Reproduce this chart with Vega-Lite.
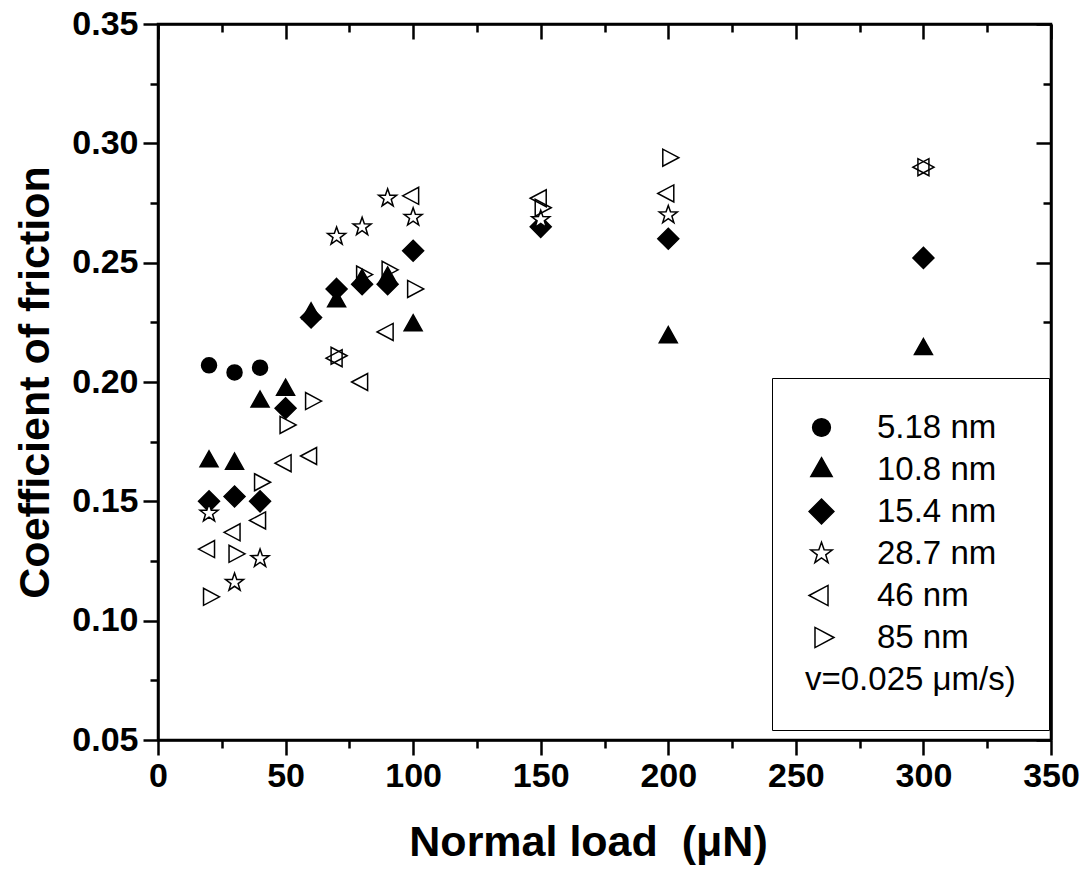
{
  "$schema": "https://vega.github.io/schema/vega-lite/v6.json",
  "width": 893,
  "height": 716,
  "autosize": {"type": "none"},
  "padding": {"left": 158, "top": 24, "right": 37, "bottom": 129},
  "background": "white",
  "config": {"view": {"stroke": "black", "strokeWidth": 2.5}, "font": "Liberation Sans"},
  "data": {"values": [
    {"x": 20, "y": 0.207, "s": "5.18 nm"},
    {"x": 30, "y": 0.204, "s": "5.18 nm"},
    {"x": 40, "y": 0.206, "s": "5.18 nm"},
    {"x": 20, "y": 0.167, "s": "10.8 nm"},
    {"x": 30, "y": 0.166, "s": "10.8 nm"},
    {"x": 40, "y": 0.192, "s": "10.8 nm"},
    {"x": 50, "y": 0.197, "s": "10.8 nm"},
    {"x": 60, "y": 0.229, "s": "10.8 nm"},
    {"x": 70, "y": 0.234, "s": "10.8 nm"},
    {"x": 80, "y": 0.243, "s": "10.8 nm"},
    {"x": 90, "y": 0.244, "s": "10.8 nm"},
    {"x": 100, "y": 0.224, "s": "10.8 nm"},
    {"x": 200, "y": 0.219, "s": "10.8 nm"},
    {"x": 300, "y": 0.214, "s": "10.8 nm"},
    {"x": 20, "y": 0.150, "s": "15.4 nm"},
    {"x": 30, "y": 0.152, "s": "15.4 nm"},
    {"x": 40, "y": 0.150, "s": "15.4 nm"},
    {"x": 50, "y": 0.189, "s": "15.4 nm"},
    {"x": 60, "y": 0.227, "s": "15.4 nm"},
    {"x": 70, "y": 0.239, "s": "15.4 nm"},
    {"x": 80, "y": 0.241, "s": "15.4 nm"},
    {"x": 90, "y": 0.241, "s": "15.4 nm"},
    {"x": 100, "y": 0.255, "s": "15.4 nm"},
    {"x": 150, "y": 0.265, "s": "15.4 nm"},
    {"x": 200, "y": 0.260, "s": "15.4 nm"},
    {"x": 300, "y": 0.252, "s": "15.4 nm"},
    {"x": 20, "y": 0.145, "s": "28.7 nm"},
    {"x": 30, "y": 0.116, "s": "28.7 nm"},
    {"x": 40, "y": 0.126, "s": "28.7 nm"},
    {"x": 70, "y": 0.261, "s": "28.7 nm"},
    {"x": 80, "y": 0.265, "s": "28.7 nm"},
    {"x": 90, "y": 0.277, "s": "28.7 nm"},
    {"x": 100, "y": 0.269, "s": "28.7 nm"},
    {"x": 150, "y": 0.268, "s": "28.7 nm"},
    {"x": 200, "y": 0.270, "s": "28.7 nm"},
    {"x": 20, "y": 0.130, "s": "46 nm"},
    {"x": 30, "y": 0.137, "s": "46 nm"},
    {"x": 40, "y": 0.142, "s": "46 nm"},
    {"x": 50, "y": 0.166, "s": "46 nm"},
    {"x": 60, "y": 0.169, "s": "46 nm"},
    {"x": 70, "y": 0.210, "s": "46 nm"},
    {"x": 80, "y": 0.200, "s": "46 nm"},
    {"x": 90, "y": 0.221, "s": "46 nm"},
    {"x": 100, "y": 0.278, "s": "46 nm"},
    {"x": 150, "y": 0.277, "s": "46 nm"},
    {"x": 200, "y": 0.279, "s": "46 nm"},
    {"x": 300, "y": 0.290, "s": "46 nm"},
    {"x": 20, "y": 0.110, "s": "85 nm"},
    {"x": 30, "y": 0.128, "s": "85 nm"},
    {"x": 40, "y": 0.158, "s": "85 nm"},
    {"x": 50, "y": 0.182, "s": "85 nm"},
    {"x": 60, "y": 0.192, "s": "85 nm"},
    {"x": 70, "y": 0.211, "s": "85 nm"},
    {"x": 80, "y": 0.245, "s": "85 nm"},
    {"x": 90, "y": 0.247, "s": "85 nm"},
    {"x": 100, "y": 0.239, "s": "85 nm"},
    {"x": 150, "y": 0.273, "s": "85 nm"},
    {"x": 200, "y": 0.294, "s": "85 nm"},
    {"x": 300, "y": 0.290, "s": "85 nm"}
  ]},
  "layer": [
    {
      "mark": {"type": "point", "size": 400, "strokeWidth": 1.5, "opacity": 1},
      "encoding": {
        "x": {"field": "x", "type": "quantitative", "scale": {"domain": [0, 350], "nice": false, "zero": false},
          "axis": {"orient": "bottom", "values": [0, 50, 100, 150, 200, 250, 300, 350], "tickSize": 15, "tickWidth": 2.5, "tickColor": "black",
            "domainColor": "black", "domainWidth": 2.5, "labelFont": "Liberation Sans", "labelFontWeight": "bold", "labelFontSize": 34,
            "labelColor": "black", "labelPadding": 4, "labelFlush": false, "labelOverlap": false, "grid": false,
            "title": "Normal load\u00a0 (\u03bcN)", "titleFont": "Liberation Sans", "titleFontSize": 43, "titleFontWeight": "bold", "titleColor": "black",
            "titlePadding": 28, "titleX": 430, "titleAlign": "center"}},
        "y": {"field": "y", "type": "quantitative", "scale": {"domain": [0.05, 0.35], "nice": false, "zero": false},
          "axis": {"orient": "left", "values": [0.05, 0.10, 0.15, 0.20, 0.25, 0.30, 0.35], "format": ".2f", "tickSize": 15, "tickWidth": 2.5, "tickColor": "black",
            "domainColor": "black", "domainWidth": 2.5, "labelFont": "Liberation Sans", "labelFontWeight": "bold", "labelFontSize": 34,
            "labelColor": "black", "labelPadding": 5, "labelFlush": false, "labelOverlap": false, "grid": false,
            "title": "Coefficient of friction", "titleFont": "Liberation Sans", "titleFontSize": 43, "titleFontWeight": "bold", "titleColor": "black", "titlePadding": 14}},
        "shape": {"field": "s", "type": "nominal",
          "scale": {"domain": ["5.18 nm", "10.8 nm", "15.4 nm", "28.7 nm", "46 nm", "85 nm"],
            "range": [
              "M0.75,0A0.75,0.75,0,1,1,-0.75,0A0.75,0.75,0,1,1,0.75,0Z",
              "M0,-1.0L0.9,0.6L-0.9,0.6Z",
              "M0,-1.05L1.05,0L0,1.05L-1.05,0Z",
              "M0,-0.95L0.2234,-0.3074L0.9035,-0.2936L0.3614,0.1174L0.5584,0.7686L0,0.38L-0.5584,0.7686L-0.3614,0.1174L-0.9035,-0.2936L-0.2234,-0.3074Z",
              "M-1.05,0L0.55,-0.85L0.55,0.85Z",
              "M1.05,0L-0.55,-0.85L-0.55,0.85Z"
            ]},
          "legend": {"title": "v=0.025 \u03bcm/s)", "titleOrient": "bottom", "titleAnchor": "start", "titleFontWeight": "normal", "titleFontSize": 33,
            "titleFont": "Liberation Sans", "titleColor": "black", "titlePadding": 9, "titleLimit": 400,
            "orient": "none", "legendX": 614, "legendY": 354, "strokeColor": "black", "padding": 33, "fillColor": "white",
            "labelFontSize": 33, "labelFont": "Liberation Sans", "labelColor": "black", "labelOffset": 39, "labelLimit": 300,
            "symbolSize": 560, "symbolStrokeWidth": 1.5, "rowPadding": 8}},
        "fill": {"field": "s", "type": "nominal",
          "scale": {"domain": ["5.18 nm", "10.8 nm", "15.4 nm", "28.7 nm", "46 nm", "85 nm"],
            "range": ["black", "black", "black", "white", "transparent", "transparent"]},
          "legend": {"title": "v=0.025 \u03bcm/s)", "titleOrient": "bottom", "titleAnchor": "start", "titleFontWeight": "normal", "titleFontSize": 33,
            "titleFont": "Liberation Sans", "titleColor": "black", "titlePadding": 9, "titleLimit": 400,
            "orient": "none", "legendX": 614, "legendY": 354, "strokeColor": "black", "padding": 33, "fillColor": "white",
            "labelFontSize": 33, "labelFont": "Liberation Sans", "labelColor": "black", "labelOffset": 39, "labelLimit": 300,
            "symbolSize": 560, "symbolStrokeWidth": 1.5, "rowPadding": 8}},
        "stroke": {"field": "s", "type": "nominal",
          "scale": {"domain": ["5.18 nm", "10.8 nm", "15.4 nm", "28.7 nm", "46 nm", "85 nm"],
            "range": ["black", "black", "black", "black", "black", "black"]},
          "legend": {"title": "v=0.025 \u03bcm/s)", "titleOrient": "bottom", "titleAnchor": "start", "titleFontWeight": "normal", "titleFontSize": 33,
            "titleFont": "Liberation Sans", "titleColor": "black", "titlePadding": 9, "titleLimit": 400,
            "orient": "none", "legendX": 614, "legendY": 354, "strokeColor": "black", "padding": 33, "fillColor": "white",
            "labelFontSize": 33, "labelFont": "Liberation Sans", "labelColor": "black", "labelOffset": 39, "labelLimit": 300,
            "symbolSize": 560, "symbolStrokeWidth": 1.5, "rowPadding": 8}}
      }
    },
    {
      "mark": {"type": "point", "opacity": 0},
      "encoding": {
        "x": {"field": "x", "type": "quantitative",
          "axis": {"orient": "bottom", "values": [25, 75, 125, 175, 225, 275, 325], "tickSize": 8, "tickWidth": 2.5, "tickColor": "black",
            "domain": false, "labels": false, "grid": false, "title": null}},
        "y": {"field": "y", "type": "quantitative",
          "axis": {"orient": "left", "values": [0.075, 0.125, 0.175, 0.225, 0.275, 0.325], "tickSize": 8, "tickWidth": 2.5, "tickColor": "black",
            "domain": false, "labels": false, "grid": false, "title": null}}
      }
    },
    {
      "mark": {"type": "point", "opacity": 0},
      "encoding": {
        "x": {"field": "x", "type": "quantitative",
          "axis": {"orient": "top", "values": [0, 50, 100, 150, 200, 250, 300, 350], "tickSize": -15, "tickWidth": 2.5, "tickColor": "black",
            "domainColor": "black", "domainWidth": 2.5, "labels": false, "grid": false, "title": null}},
        "y": {"field": "y", "type": "quantitative",
          "axis": {"orient": "right", "values": [0.05, 0.10, 0.15, 0.20, 0.25, 0.30, 0.35], "tickSize": -15, "tickWidth": 2.5, "tickColor": "black",
            "domainColor": "black", "domainWidth": 2.5, "labels": false, "grid": false, "title": null}}
      }
    },
    {
      "mark": {"type": "point", "opacity": 0},
      "encoding": {
        "x": {"field": "x", "type": "quantitative",
          "axis": {"orient": "top", "values": [25, 75, 125, 175, 225, 275, 325], "tickSize": -8, "tickWidth": 2.5, "tickColor": "black",
            "domain": false, "labels": false, "grid": false, "title": null}},
        "y": {"field": "y", "type": "quantitative",
          "axis": {"orient": "right", "values": [0.075, 0.125, 0.175, 0.225, 0.275, 0.325], "tickSize": -8, "tickWidth": 2.5, "tickColor": "black",
            "domain": false, "labels": false, "grid": false, "title": null}}
      }
    }
  ],
  "resolve": {"axis": {"x": "independent", "y": "independent"}}
}
